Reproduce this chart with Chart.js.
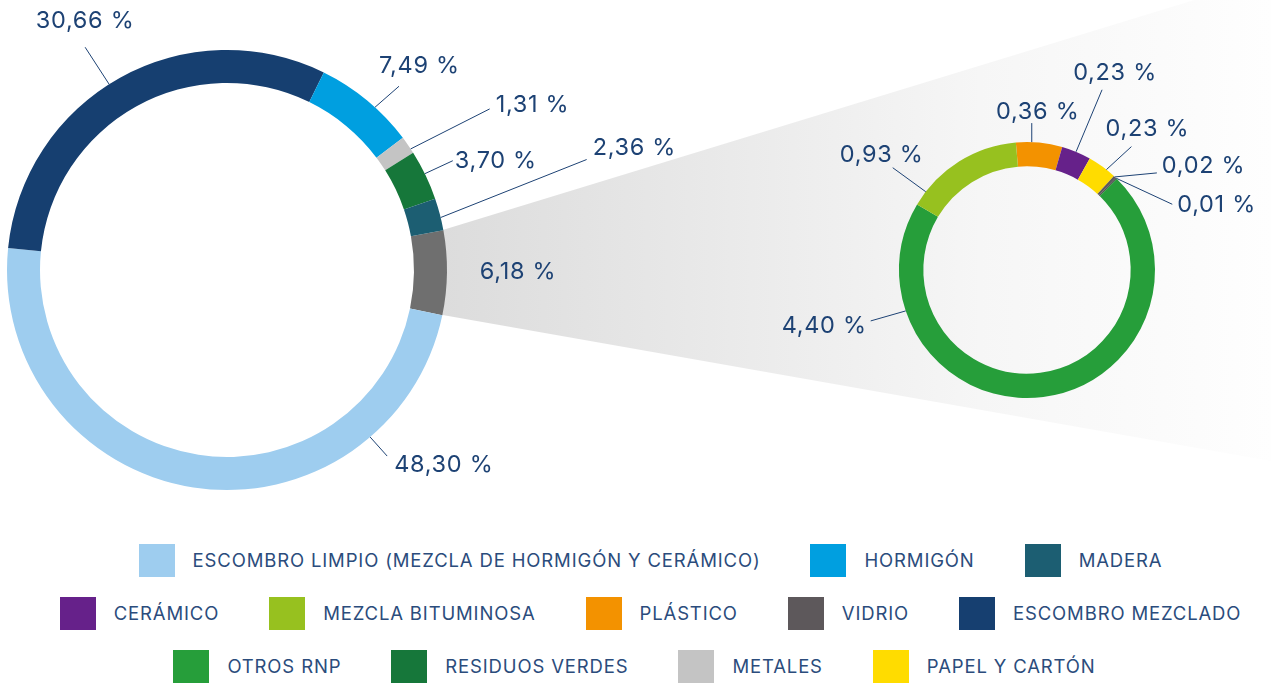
<!DOCTYPE html>
<html>
<head>
<meta charset="utf-8">
<script src="https://cdn.jsdelivr.net/npm/chart.js@4.4.0/dist/chart.umd.min.js"></script>
<style>
  body { margin: 0; background: #fff; width: 1271px; height: 691px; overflow: hidden; position: relative; font-family: 'Inter', sans-serif; }
  canvas { position: absolute; left: 0; top: 0; }
  #legend { position: absolute; left: 30px; top: 544px; width: 1241px; }
  .row { display: flex; justify-content: center; height: 53px; }
  .item { display: flex; align-items: flex-start; margin: 0 25px; }
  .box { width: 36px; height: 33px; margin-right: 18px; }
  .txt { color: #2b4c7c; font-size: 18.5px; letter-spacing: 0.85px; line-height: 33px; white-space: nowrap; }
</style>
</head>
<body>
<canvas id="graficoTotal" width="1271" height="520"></canvas>
<canvas id="graficoResto" width="1271" height="520"></canvas>
<div id="legend"></div>
<script>
// datos - grafico principal (el gris es el resto, desglosado a la derecha)
const etiquetasTotal = ['RESTO', 'ESCOMBRO LIMPIO (MEZCLA DE HORMIGÓN Y CERÁMICO)', 'ESCOMBRO MEZCLADO', 'HORMIGÓN', 'METALES', 'RESIDUOS VERDES', 'MADERA'];
const valoresTotal = [6.18, 48.30, 30.66, 7.49, 1.31, 3.70, 2.36];
const coloresTotal = ['#6f6f6f', '#9ecdef', '#163f70', '#009fe0', '#c4c4c4', '#16773a', '#1c5e72'];

// datos - desglose del resto
const etiquetasResto = ['PLÁSTICO', 'CERÁMICO', 'PAPEL Y CARTÓN', 'VIDRIO', 'OTROS', 'OTROS RNP', 'MEZCLA BITUMINOSA'];
const valoresResto = [0.36, 0.23, 0.23, 0.02, 0.01, 4.40, 0.93];
const coloresResto = ['#f39200', '#66218a', '#ffdc00', '#5d585b', '#4a4a4a', '#269e3a', '#97c11f'];

// leyenda
const leyendaNombres = ['ESCOMBRO LIMPIO (MEZCLA DE HORMIGÓN Y CERÁMICO)', 'HORMIGÓN', 'MADERA', 'CERÁMICO', 'MEZCLA BITUMINOSA', 'PLÁSTICO', 'VIDRIO', 'ESCOMBRO MEZCLADO', 'OTROS RNP', 'RESIDUOS VERDES', 'METALES', 'PAPEL Y CARTÓN'];
const leyendaColores = ['#9ecdef', '#009fe0', '#1c5e72', '#66218a', '#97c11f', '#f39200', '#5d585b', '#163f70', '#269e3a', '#16773a', '#c4c4c4', '#ffdc00'];

const colorTexto = '#1d4274';

function formatoPct(v) {
  return v.toFixed(2).replace('.', ',') + ' %';
}

// posicion de las etiquetas: t = punto sobre el arco, dx/dy = linea guia, tx/ty = texto
const guiasTotal = [
  { t: 0.5, linea: false, dx: 71, dy: -1, align: 'center', tx: 0, ty: 0 },
  { t: 0.216, dx: 17, dy: 19, align: 'left', tx: 7, ty: 9 },
  { t: 0.47, dx: -24, dy: -37, align: 'center', tx: 0, ty: -26 },
  { t: 0.6, dx: 24, dy: -21, align: 'left', tx: -20, ty: -20 },
  { t: 0.75, dx: 79, dy: -40, align: 'left', tx: 6, ty: -4 },
  { t: 0.47, dx: 28, dy: -13, align: 'left', tx: 2, ty: 0 },
  { t: 0.6, dx: 146, dy: -58, align: 'left', tx: 6, ty: -12 }
];
const guiasResto = [
  { t: 0.34, dx: 0, dy: -19, align: 'center', tx: 6, ty: -11 },
  { t: 0.49, dx: 26, dy: -62, align: 'center', tx: 13, ty: -17 },
  { t: 0.67, dx: 25, dy: -23, align: 'center', tx: 16, ty: -18 },
  { t: 0.5, dx: 42, dy: -4, align: 'left', tx: 5, ty: -7 },
  { t: 0.5, dx: 56, dy: 26, align: 'left', tx: 5, ty: 1 },
  { t: 0.807, dx: -35, dy: 10, align: 'right', tx: -4, ty: 5 },
  { t: 0.127, dx: -33, dy: -24, align: 'center', tx: -11, ty: -13 }
];

const etiquetasPlugin = {
  id: 'etiquetas',
  afterDatasetsDraw(chart, args, opts) {
    const ctx = chart.ctx;
    const meta = chart.getDatasetMeta(0);
    const valores = chart.data.datasets[0].data;
    ctx.save();
    ctx.font = '400 23.5px Inter, sans-serif';
    ctx.letterSpacing = '0.7px';
    ctx.fillStyle = colorTexto;
    ctx.strokeStyle = colorTexto;
    ctx.lineWidth = 1;
    ctx.textBaseline = 'middle';
    meta.data.forEach((arc, i) => {
      const g = opts.guias[i];
      const p = arc.getProps(['x', 'y', 'startAngle', 'endAngle', 'outerRadius'], true);
      const a = p.startAngle + (p.endAngle - p.startAngle) * g.t;
      const ax = p.x + Math.cos(a) * p.outerRadius;
      const ay = p.y + Math.sin(a) * p.outerRadius;
      const ex = ax + g.dx, ey = ay + g.dy;
      if (g.linea !== false) {
        ctx.beginPath();
        ctx.moveTo(ax, ay);
        ctx.lineTo(ex, ey);
        ctx.stroke();
      }
      ctx.textAlign = g.align;
      ctx.fillText(formatoPct(valores[i]), ex + g.tx, ey + g.ty);
    });
    ctx.restore();
  }
};

// cuña gris que une el segmento del resto con el desglose
const cunaPlugin = {
  id: 'cuna',
  beforeDatasetsDraw(chart) {
    const ctx = chart.ctx;
    const arc = chart.getDatasetMeta(0).data[0];
    const p = arc.getProps(['x', 'y', 'startAngle', 'endAngle', 'outerRadius'], true);
    const x1 = p.x + Math.cos(p.startAngle) * (p.outerRadius - 4);
    const y1 = p.y + Math.sin(p.startAngle) * (p.outerRadius - 4);
    const x2 = p.x + Math.cos(p.endAngle) * (p.outerRadius - 4);
    const y2 = p.y + Math.sin(p.endAngle) * (p.outerRadius - 4);
    const w = chart.width;
    const grad = ctx.createLinearGradient(x1, 0, w, 0);
    grad.addColorStop(0, '#dcdcdc');
    grad.addColorStop(0.35, '#eaeaea');
    grad.addColorStop(0.65, '#f6f6f6');
    grad.addColorStop(1, '#fefefe');
    ctx.save();
    ctx.fillStyle = grad;
    ctx.beginPath();
    ctx.moveTo(x1, y1);
    ctx.lineTo(x1 + y1 / 0.306, 0);
    ctx.lineTo(w, 0);
    ctx.lineTo(w, y2 + (w - x2) * 0.176);
    ctx.lineTo(x2, y2);
    ctx.closePath();
    ctx.fill();
    ctx.restore();
  }
};

const opcionesBase = {
  responsive: false,
  animation: false,
  events: [],
  plugins: { legend: { display: false }, tooltip: { enabled: false } }
};

new Chart(document.getElementById('graficoTotal'), {
  type: 'doughnut',
  data: {
    labels: etiquetasTotal,
    datasets: [{ data: valoresTotal, backgroundColor: coloresTotal, borderWidth: 0 }]
  },
  options: {
    ...opcionesBase,
    cutout: '85%',
    rotation: 79.6,
    layout: { padding: { left: 7, top: 50, right: 824, bottom: 30 } },
    plugins: { ...opcionesBase.plugins, etiquetas: { guias: guiasTotal } }
  },
  plugins: [cunaPlugin, etiquetasPlugin]
});

new Chart(document.getElementById('graficoResto'), {
  type: 'doughnut',
  data: {
    labels: etiquetasResto,
    datasets: [{ data: valoresResto, backgroundColor: coloresResto, borderWidth: 0 }]
  },
  options: {
    ...opcionesBase,
    cutout: '81%',
    rotation: -5,
    layout: { padding: { left: 899, top: 142, right: 116, bottom: 122 } },
    plugins: { ...opcionesBase.plugins, etiquetas: { guias: guiasResto } }
  },
  plugins: [etiquetasPlugin]
});

// leyenda en html, tres filas
const filas = [[0, 1, 2], [3, 4, 5, 6, 7], [8, 9, 10, 11]];
const leyenda = document.getElementById('legend');
filas.forEach((fila, n) => {
  const div = document.createElement('div');
  div.className = 'row';
  if (n === 2) div.style.marginLeft = '-32px';
  fila.forEach(i => {
    const item = document.createElement('div');
    item.className = 'item';
    item.innerHTML = '<div class="box" style="background:' + leyendaColores[i] + '"></div><span class="txt">' + leyendaNombres[i] + '</span>';
    div.appendChild(item);
  });
  leyenda.appendChild(div);
});
</script>
</body>
</html>
